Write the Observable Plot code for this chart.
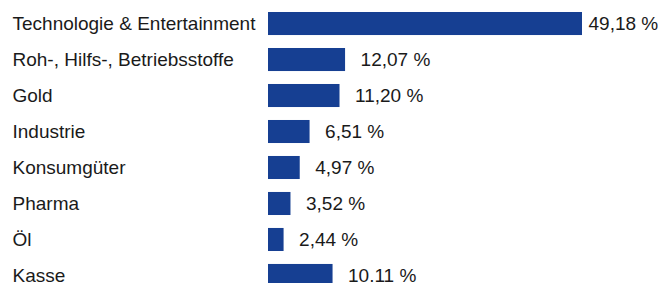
<!DOCTYPE html>
<html>
<head>
<meta charset="utf-8">
<script src="https://cdn.jsdelivr.net/npm/d3@7"></script>
<script src="https://cdn.jsdelivr.net/npm/@observablehq/plot@0.6"></script>
<style>
  html, body { margin: 0; padding: 0; background: #fff; }
  #chart svg { display: block; }
</style>
</head>
<body>
<div id="chart"></div>
<script>
const categories = ["Technologie & Entertainment", "Roh-, Hilfs-, Betriebsstoffe", "Gold", "Industrie", "Konsumgüter", "Pharma", "Öl", "Kasse"];
const values = [49.18, 12.07, 11.20, 6.51, 4.97, 3.52, 2.44, 10.11];
const valueLabels = ["49,18 %", "12,07 %", "11,20 %", "6,51 %", "4,97 %", "3,52 %", "2,44 %", "10.11 %"];

const data = categories.map((c, i) => ({ category: c, value: values[i], label: valueLabels[i], first: i === 0 }));

const font = "'Liberation Sans', Arial, Helvetica, sans-serif";
const chart = Plot.plot({
  width: 658,
  height: 283,
  marginLeft: 268,
  marginRight: 76,
  marginTop: 0,
  marginBottom: 0,
  style: { fontFamily: font, background: "#fff" },
  x: { domain: [0, 49.18], axis: null },
  y: { domain: categories, range: [12, 287], paddingInner: 0.36, paddingOuter: 0, round: false, axis: null },
  marks: [
    Plot.barX(data, { x: "value", y: "category", fill: "#163f92" }),
    Plot.text(data, { y: "category", text: "category", frameAnchor: "left", textAnchor: "start", dx: -256, fontSize: 19, fill: "#1a1a1a" }),
    Plot.text(data.filter(d => d.first), { x: "value", y: "category", text: "label", textAnchor: "start", dx: 6, fontSize: 19, fill: "#1a1a1a" }),
    Plot.text(data.filter(d => !d.first), { x: "value", y: "category", text: "label", textAnchor: "start", dx: 15, fontSize: 19, fill: "#1a1a1a" })
  ]
});
document.getElementById("chart").appendChild(chart);
</script>
</body>
</html>
